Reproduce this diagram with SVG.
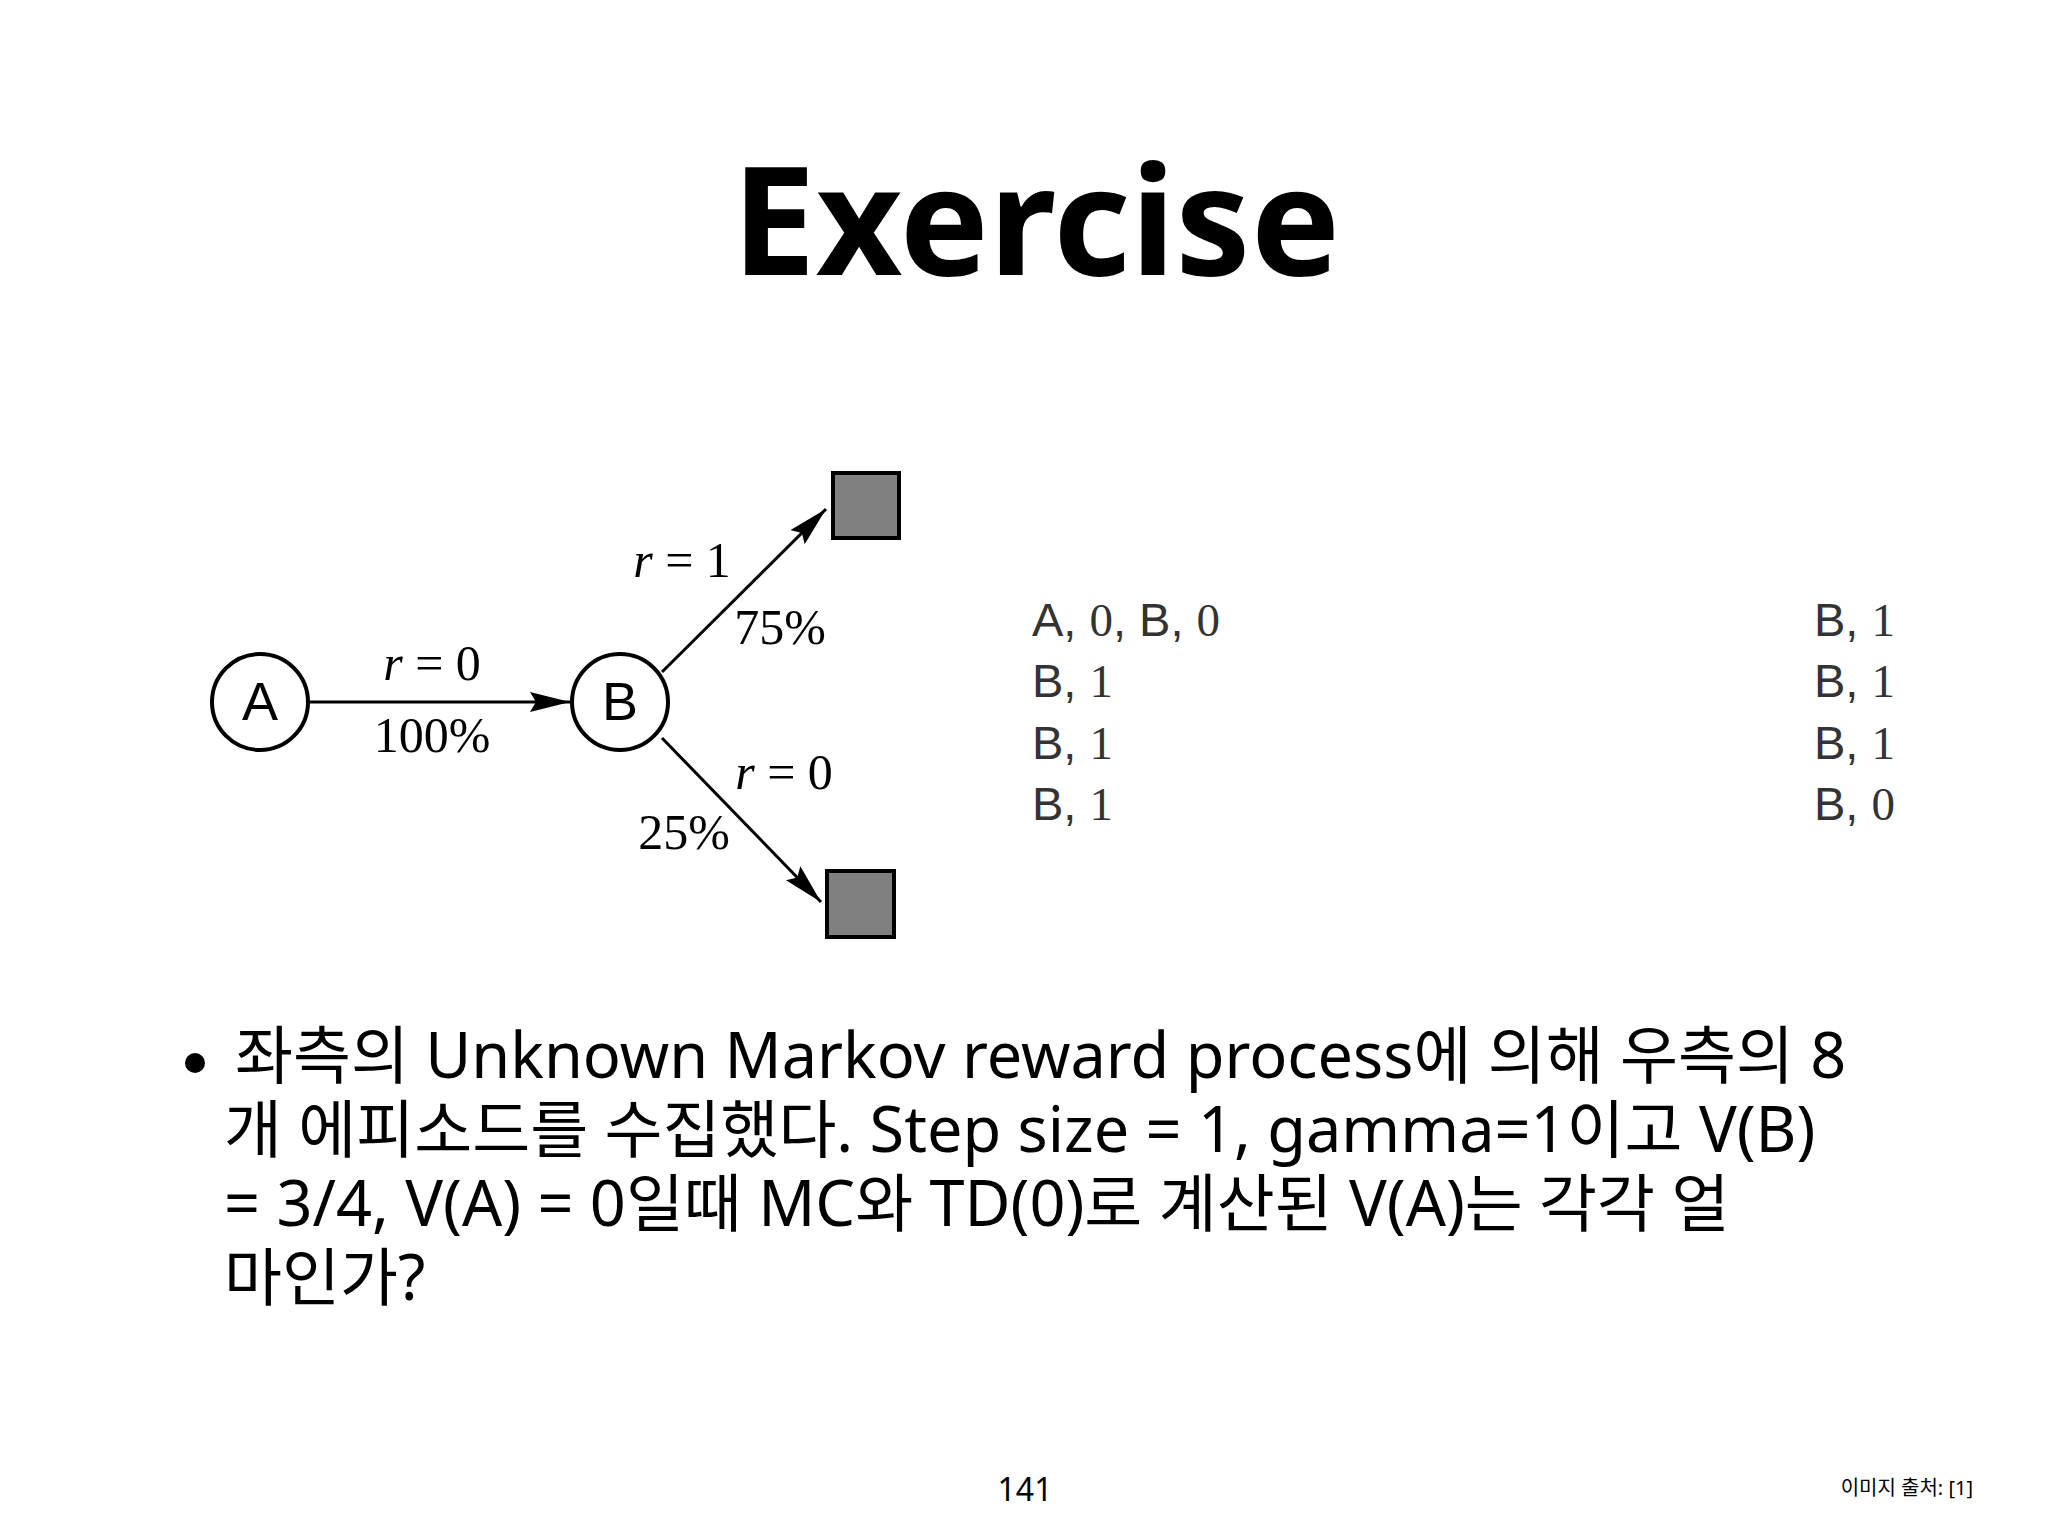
<svg xmlns="http://www.w3.org/2000/svg" width="2048" height="1536" viewBox="0 0 2048 1536">
<style>
.s{font-family:"Noto Sans","Noto Sans CJK KR",sans-serif;fill:#000}
.m{font-family:"Liberation Serif",serif;font-size:50px}
.node{fill:#fff;stroke:#000;stroke-width:4}
.term{fill:#808080;stroke:#000;stroke-width:4}
.edge{stroke:#000;stroke-width:3;fill:none}
.ep{font-family:"Liberation Sans",sans-serif;font-size:47px;fill:#333}
.ep tspan.n{font-family:"Liberation Serif",serif}
</style>
<defs>
<marker id="arw" viewBox="0 0 40 20" refX="40" refY="10" markerWidth="40" markerHeight="20" orient="auto" markerUnits="userSpaceOnUse"><path d="M0,0 L40,10 L0,20 L6,10 Z" fill="#000"/></marker></defs>
<rect width="2048" height="1536" fill="#fff"/>
<text class="s" x="1036" y="275" font-size="150" font-weight="bold" text-anchor="middle">Exercise</text>
<g transform="translate(-8,-8)">
<g id="connectors">
<line class="edge" x1="317" y1="710" x2="578" y2="710" marker-end="url(#arw)"/>
<line class="edge" x1="670" y1="680" x2="834" y2="517" marker-end="url(#arw)"/>
<line class="edge" x1="670" y1="746" x2="829" y2="910" marker-end="url(#arw)"/>
<text class="m" x="440" y="688" text-anchor="middle"><tspan font-style="italic">r</tspan> = 0</text>
<text class="m" x="440" y="760" text-anchor="middle">100%</text>
<text class="m" x="690" y="585" text-anchor="middle"><tspan font-style="italic">r</tspan> = 1</text>
<text class="m" x="788" y="652" text-anchor="middle">75%</text>
<text class="m" x="792" y="797" text-anchor="middle"><tspan font-style="italic">r</tspan> = 0</text>
<text class="m" x="692" y="857" text-anchor="middle">25%</text>
</g>
<g id="A"><circle class="node" cx="268" cy="710" r="48"/><text x="268" y="728" font-family="Liberation Sans,sans-serif" font-size="54" text-anchor="middle">A</text></g>
<g id="B"><circle class="node" cx="628" cy="710" r="48"/><text x="628" y="728" font-family="Liberation Sans,sans-serif" font-size="54" text-anchor="middle">B</text></g>
<g id="T1"><rect class="term" x="841" y="481" width="66" height="65"/></g>
<g id="T2"><rect class="term" x="835" y="879" width="67" height="66"/></g>
</g>
<g id="episodes">
<text class="ep" x="1032" y="636">A, <tspan class="n">0</tspan>, B, <tspan class="n">0</tspan></text>
<text class="ep" x="1032" y="697">B, <tspan class="n">1</tspan></text>
<text class="ep" x="1032" y="759">B, <tspan class="n">1</tspan></text>
<text class="ep" x="1032" y="820">B, <tspan class="n">1</tspan></text>
<text class="ep" x="1834" y="636" transform="translate(-20,0)">B, <tspan class="n">1</tspan></text>
<text class="ep" x="1834" y="697" transform="translate(-20,0)">B, <tspan class="n">1</tspan></text>
<text class="ep" x="1834" y="759" transform="translate(-20,0)">B, <tspan class="n">1</tspan></text>
<text class="ep" x="1834" y="820" transform="translate(-20,0)">B, <tspan class="n">0</tspan></text>
</g>
<circle cx="195" cy="1063" r="10" fill="#000"/>
<g class="s" font-size="63">
<text x="235" y="1078">좌측의 Unknown Markov reward process에 의해 우측의 8</text>
<text x="224" y="1152">개 에피소드를 수집했다. Step size = 1, gamma=1이고 V(B)</text>
<text x="224" y="1226">= 3/4, V(A) = 0일때 MC와 TD(0)로 계산된 V(A)는 각각 얼</text>
<text x="224" y="1300">마인가?</text>
</g>
<text class="s" x="1025" y="1501" font-size="32" text-anchor="middle">141</text>
<text class="s" x="1973" y="1495" font-size="20" text-anchor="end">이미지 출처: [1]</text>
</svg>
